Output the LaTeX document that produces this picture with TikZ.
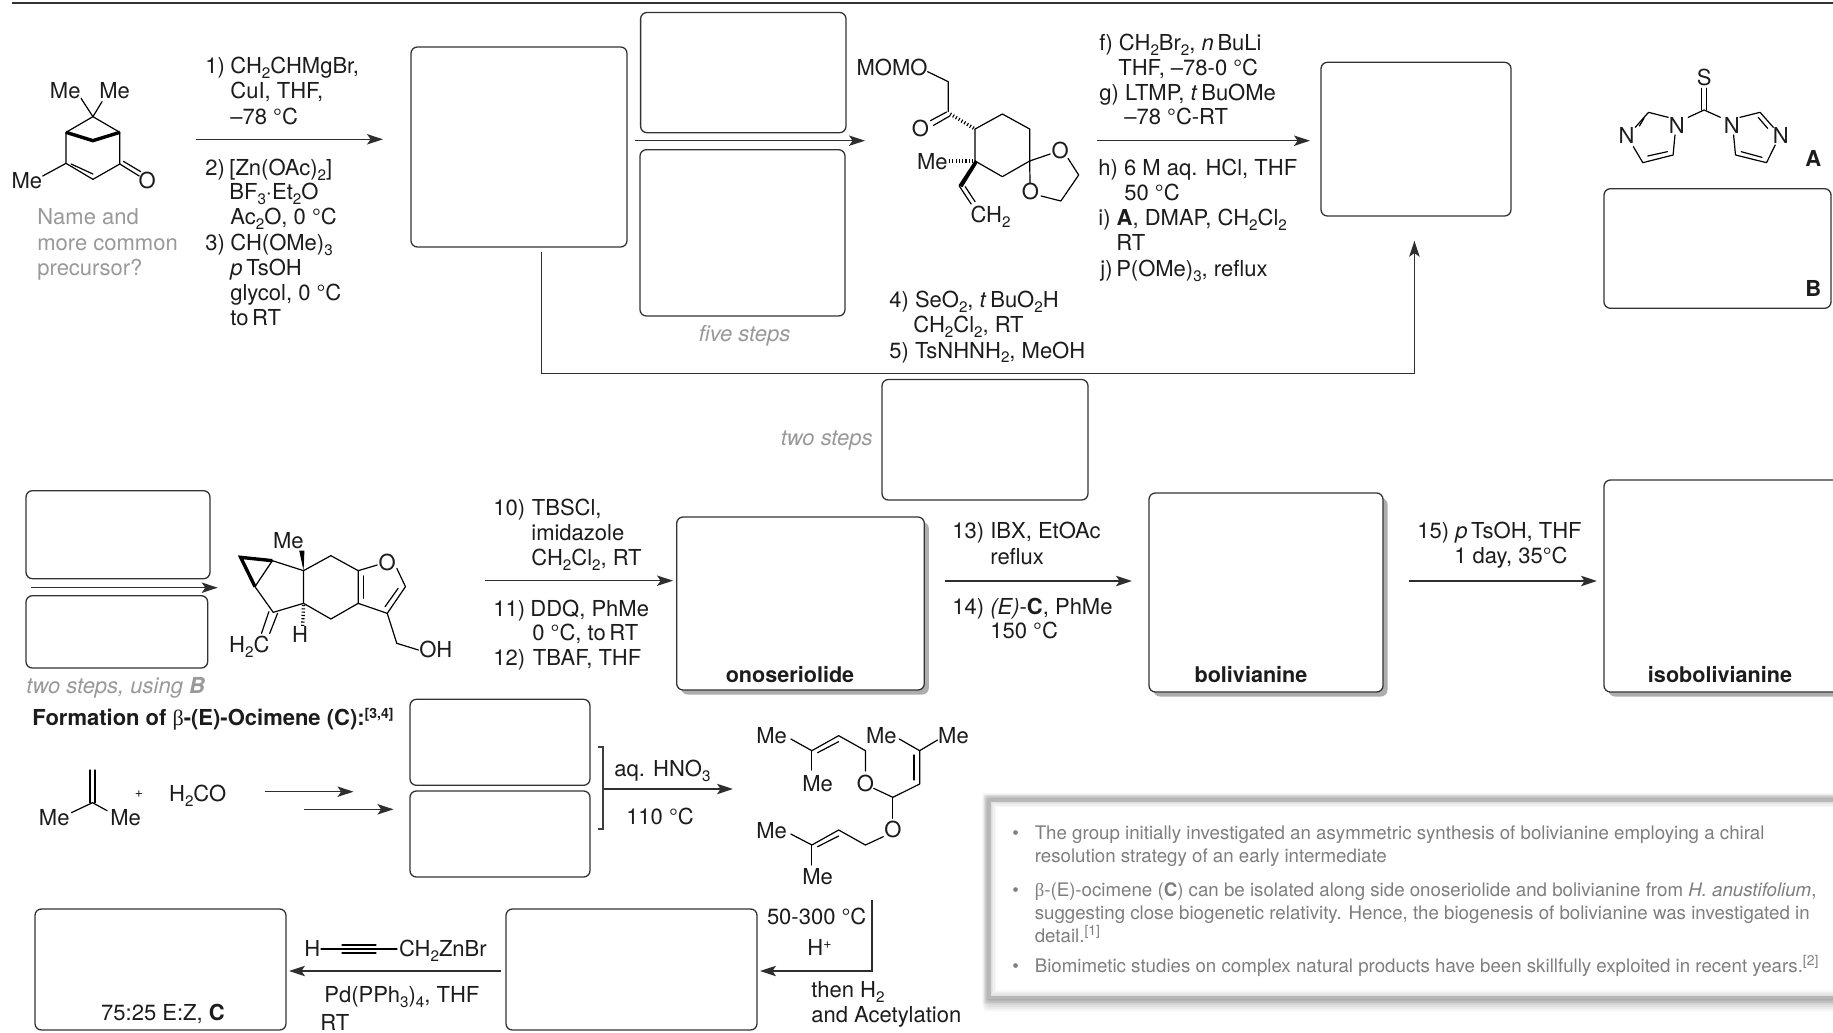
\documentclass[tikz,border=0pt]{standalone}
\usepackage{fontspec}
\setmainfont{TeX Gyre Heros}
\newfontfamily\grk{Liberation Serif}
\usetikzlibrary{arrows.meta,fit}
\newcommand\sbs[1]{\raisebox{-2.2pt}{\fontsize{7.6pt}{8pt}\selectfont #1}}
\newcommand\sps[1]{\raisebox{3.6pt}{\fontsize{7pt}{8pt}\selectfont #1}}
\definecolor{ink}{HTML}{1C1C1C}
\definecolor{capt}{HTML}{999999}
\definecolor{notec}{HTML}{7E7E7E}
\tikzset{
  txt/.style={anchor=base west,inner sep=0pt,yshift=-3.8pt,text=ink,font=\fontsize{11pt}{12pt}\selectfont},
  tc/.style={txt,anchor=base},
  tr/.style={txt,anchor=base east},
  capt/.style={text=capt},
  note/.style={txt,text=notec,yshift=.2pt,font=\fontsize{9.35pt}{11pt}\selectfont},
  box/.style={draw=ink!90,line width=.65pt,rounded corners=3.2pt,inner sep=0pt,fill=white},
  shbox/.style={box},
  arr/.style={draw=ink!92,line width=.65pt,-{Stealth[length=8pt,width=5.2pt,inset=1.8pt]}},
  bond/.style={draw=black,line width=.6pt,line cap=round,line join=round},
  bold/.style={draw=black,line width=1.7pt,line join=miter},
  hash/.style={draw=black,line width=1.7pt,dash pattern=on .55pt off 1.1pt},
}
\newcommand\bx[6][box]{\node[#1,fit={(#3,#4)(#5,#6)}] (#2) {};}
\newcommand\shx[6][box]{\fill[black!32,rounded corners=3.2pt] (#3+4.5,#4+5)rectangle(#5+4.5,#6+4.5);\node[#1,fit={(#3,#4)(#5,#6)}] (#2) {};}
\begin{document}
\begin{tikzpicture}[x=.5pt,y=-.5pt]
\useasboundingbox (0,0) rectangle (1833,1033);
\clip (0,0) rectangle (1833,1033);
\fill[white] (0,0) rectangle (1833,1033);
\coordinate (tl1) at (12,3); \coordinate (tl2) at (1833,3);
\draw[draw=ink!90,line width=1pt] (tl1)--(tl2);
% boxes
\bx{b1}{411}{47}{627}{247}
\bx{b2}{640.6}{12.5}{846}{132.7}
\bx{b3}{640}{149.7}{845}{316}
\bx{b4}{1321}{62.3}{1511}{216}
\bx{bB}{1604}{188.7}{1831}{308.3}
\bx{b5}{882}{379.5}{1088}{500}
\bx{b6}{26}{490.7}{210}{578.7}
\bx{b7}{26}{595.7}{207.7}{668}
\shx{ono}{676.7}{517}{924.3}{690}
\shx{bol}{1149}{493}{1383}{692}
\shx{iso}{1604}{480}{1850}{692}
\bx{c1}{410}{699.3}{590}{785.3}
\bx{c2}{410}{791}{590}{877}
\bx{e1}{35}{909}{286}{1030}
\bx{e2}{506}{909}{757}{1030}
% arrows
\coordinate (a1s) at (196,139.3); \coordinate (a1e) at (383,139.3); \draw[arr] (a1s)--(a1e);
\coordinate (a2s) at (635,140.7); \coordinate (a2e) at (865,140.7); \draw[arr] (a2s)--(a2e);
\coordinate (a3s) at (1097,140.7); \coordinate (a3e) at (1310,140.7); \draw[arr] (a3s)--(a3e);
\coordinate (l1) at (541.7,252); \coordinate (l2) at (541.7,373.5); \coordinate (l3) at (1414.4,373.5); \coordinate (l4) at (1414.4,240.7);
\draw[arr] (l1)--(l2)--(l3)--(l4);
\coordinate (a4s) at (31,587.7); \coordinate (a4e) at (217.7,587.7); \draw[arr] (a4s)--(a4e);
\coordinate (a5s) at (485,580.7); \coordinate (a5e) at (673,580.7); \draw[arr] (a5s)--(a5e);
\coordinate (a6s) at (945,581); \coordinate (a6e) at (1132,581); \draw[arr] (a6s)--(a6e);
\coordinate (a7s) at (1409,581); \coordinate (a7e) at (1597,581); \draw[arr] (a7s)--(a7e);
\coordinate (a8s) at (264.7,791.7); \coordinate (a8e) at (353.5,791.7); \draw[arr] (a8s)--(a8e);
\coordinate (a9s) at (303.6,809.3); \coordinate (a9e) at (393.5,809.3); \draw[arr] (a9s)--(a9e);
\coordinate (br1) at (598,747); \coordinate (br2) at (603,747); \coordinate (br3) at (603,829); \coordinate (br4) at (598,829);
\draw[draw=ink!85,line width=.6pt] (br1)--(br2)--(br3)--(br4);
\coordinate (a10s) at (604,789); \coordinate (a10e) at (733,789); \draw[arr] (a10s)--(a10e);
\coordinate (a11s) at (501,971); \coordinate (a11e) at (289,971); \draw[arr] (a11s)--(a11e);
\coordinate (a12s) at (872,900); \coordinate (a12m) at (872,971); \coordinate (a12e) at (760,971); \draw[arr] (a12s)--(a12m)--(a12e);
% reagents, row 1
\node[txt] (r1n) at (205,66) {1)}; \node[txt] (r1) at (230,66) {CH\sbs{2}CHMgBr,};
\node[txt] (r1b) at (230,91) {CuI, THF,};
\node[txt] (r1c) at (230,116.7) {--78 °C};
\node[txt] (r2n) at (205,168) {2)}; \node[txt] (r2) at (229,168) {[Zn(OAc)\sbs{2}]};
\node[txt] (r2b) at (229,192) {BF\sbs{3}·Et\sbs{2}O};
\node[txt] (r2c) at (230,217) {Ac\sbs{2}O, 0 °C};
\node[txt] (r3n) at (205,243) {3)}; \node[txt] (r3) at (230,243) {CH(OMe)\sbs{3}};
\node[txt] (r3b) at (230,268) {\textit{p}\,TsOH};
\node[txt] (r3c) at (230,293) {glycol, 0 °C};
\node[txt] (r3d) at (230,318) {to\,RT};
\node[txt,capt] (q1) at (37,216.7) {Name and};
\node[txt,capt] (q2) at (37,242.7) {more common};
\node[txt,capt] (q3) at (37,267.7) {precursor?};
\node[tc,capt] (five) at (744.5,334) {\itshape five steps};
\node[txt] (r4n) at (889,300) {4)}; \node[txt] (r4) at (914.6,300) {SeO\sbs{2}, \textit{t}\,BuO\sbs{2}H};
\node[txt] (r4b) at (913,325) {CH\sbs{2}Cl\sbs{2}, RT};
\node[txt] (r5n) at (889,350.7) {5)}; \node[txt] (r5) at (914.6,350.7) {TsNHNH\sbs{2}, MeOH};
\node[txt] (rf) at (1099,43) {f) CH\sbs{2}Br\sbs{2}, \textit{n}\,BuLi};
\node[txt] (rf2) at (1118,67.7) {THF, --78-0 °C};
\node[txt] (rg) at (1099,92.7) {g) LTMP, \textit{t}\,BuOMe};
\node[txt] (rg2) at (1124,117) {--78 °C-RT};
\node[txt] (rh) at (1098,168) {h) 6 M aq. HCl, THF};
\node[txt] (rh2) at (1124,193) {50 °C};
\node[txt] (ri) at (1098,218) {i) \textbf{A}, DMAP, CH\sbs{2}Cl\sbs{2}};
\node[txt] (ri2) at (1116,243) {RT};
\node[txt] (rj) at (1100,269) {j)\,P(OMe)\sbs{3}, reflux};
\node[tr,capt] (two) at (873,438) {\itshape two steps};
\node[txt,font=\fontsize{11pt}{12pt}\selectfont\bfseries] (lA) at (1805,159) {A};
\node[txt,font=\fontsize{11pt}{12pt}\selectfont\bfseries] (lB) at (1805,289) {B};
% row 2
\node[txt,capt] (twob) at (26,685.7) {\itshape two steps, using \textbf{B}};
\node[txt] (r10n) at (493,508) {10)}; \node[txt] (r10) at (531.5,508) {TBSCl,};
\node[txt] (r10b) at (531,533) {imidazole};
\node[txt] (r10c) at (531,558) {CH\sbs{2}Cl\sbs{2}, RT};
\node[txt] (r11n) at (493,609) {11)}; \node[txt] (r11) at (530,609) {DDQ, PhMe};
\node[txt] (r11b) at (532,633) {0 °C, to\,RT};
\node[txt] (r12n) at (493,658) {12)}; \node[txt] (r12) at (532.5,658) {TBAF, THF};
\node[tc,font=\fontsize{10.8pt}{12pt}\selectfont\bfseries] (lono) at (790,675) {onoseriolide};
\node[tc,font=\fontsize{10.8pt}{12pt}\selectfont\bfseries] (lbol) at (1251,675) {bolivianine};
\node[tc,font=\fontsize{10.8pt}{12pt}\selectfont\bfseries] (liso) at (1720,675) {isobolivianine};
\node[txt] (r13) at (952,531) {13) IBX, EtOAc};
\node[txt] (r13b) at (990,556.5) {reflux};
\node[txt] (r14) at (952,607) {14) \textit{(E)}-\textbf{C}, PhMe};
\node[txt] (r14b) at (990,631) {150 °C};
\node[txt] (r15) at (1417,531) {15) \textit{p}\,TsOH, THF};
\node[txt] (r15b) at (1454,556) {1 day, 35°C};
% ocimene
\node[txt,font=\fontsize{11pt}{12pt}\selectfont\bfseries] (form) at (32,718) {Formation of {\grk\mdseries β}-(E)-Ocimene (C):\sps{[3,4]}};
\node[txt] (hno) at (614,769) {aq. HNO\sbs{3}};
\node[tc] (tmp) at (660,817) {110 °C};
\node[tc] (ez) at (163,1013) {75:25 E:Z, \textbf{C}};
\node[txt] (hh) at (304,949) {H};
\coordinate (y1) at (321,949); \coordinate (y2) at (397,949); \draw[bond] (y1)--(y2);
\coordinate (y3) at (342,945); \coordinate (y4) at (376,945); \draw[bond] (y3)--(y4);
\coordinate (y5) at (342,953); \coordinate (y6) at (376,953); \draw[bond] (y5)--(y6);
\node[txt] (zn) at (398.6,949) {CH\sbs{2}ZnBr};
\node[txt] (pd) at (324,995) {Pd(PPh\sbs{3})\sbs{4}, THF};
\node[txt] (rt) at (320,1023) {RT};
\node[txt] (t50) at (766.6,917) {50-300 °C};
\node[tc] (hp) at (819.5,948) {H\sps{+}};
\node[txt] (th) at (811,990) {then H\sbs{2}};
\node[txt] (ac) at (811,1015) {and Acetylation};
% molecule 1
\begin{scope}[shift={(0,0)},x=.19771pt,y=-.16667pt]
\draw[bond] (205,295)--(235,350)--(258,305);
\draw[bond] (167,397)--(235,350)--(303,397);
\draw[bond] (167,397)--(167,490)--(235,538)--(303,492)--(303,397);
\draw[bond] (180,492)--(235,522);
\draw[bond] (303,492)--(352,528); \draw[bond] (312,484)--(356,515);
\draw[bond] (167,490)--(108,528);
\draw[bold] (167,397)--(235,422)--(303,397);
\node[tc] (m1a) at (165,272) {Me}; \node[tc] (m1b) at (290,272) {Me};
\node[tc] (m1c) at (68,542) {Me}; \node[tc] (m1d) at (372,543) {O};
\end{scope}
% molecule 2
\begin{scope}[shift={(620,0)},x=.19771pt,y=-.16667pt]
\draw[bond] (778,215)--(830,245)--(830,335);
\draw[bond] (826,336)--(785,362); \draw[bond] (834,348)--(793,376);
\draw[bond] (898,387)--(967,342)--(1036,387)--(1036,483)--(967,530)--(898,483)--cycle;
\draw[hash] (835,342)--(895,385);
\draw[hash] (832,483)--(893,483);
\fill[black] (898,480)--(905,487)--(866,562)--(856,556)--cycle;
\draw[bond] (858,558)--(888,612); \draw[bond] (873,560)--(898,605);
\draw[bond] (1036,483)--(1088,462); \draw[bond] (1036,483)--(1037,550);
\draw[bond] (1133,475)--(1160,525)--(1115,603)--(1065,588);
\node[tc] (m2a) at (688,203) {MOMO}; \node[tc] (m2b) at (760,388) {O};
\node[tc] (m2c) at (790,487) {Me}; \node[tc] (m2d) at (937,645) {CH\sbs{2}};
\node[tc] (m2e) at (1113,453) {O}; \node[tc] (m2f) at (1038,577) {O};
\end{scope}
% molecule A
\begin{scope}[shift={(1240,0)},x=.18911pt,y=-.16667pt]
\draw[bond] (1220,265)--(1220,330); \draw[bond] (1234,265)--(1234,330);
\draw[bond] (1185,352)--(1227,330)--(1270,352);
\draw[bond] (1132,352)--(1080,337)--(1045,382);
\draw[bond] (1068,355)--(1056,378);
\draw[bond] (1040,440)--(1065,488)--(1145,465)--(1150,405);
\draw[bond] (1078,468)--(1130,455);
\draw[bond] (1322,352)--(1375,337)--(1410,382);
\draw[bond] (1370,352)--(1395,385);
\draw[bond] (1415,435)--(1392,488)--(1310,465)--(1305,405);
\draw[bond] (1380,472)--(1325,455);
\node[tc] (mAs) at (1227,235) {S}; \node[tc] (mAn1) at (1155,378) {N}; \node[tc] (mAn2) at (1022,408) {N};
\node[tc] (mAn3) at (1300,378) {N}; \node[tc] (mAn4) at (1430,408) {N};
\end{scope}
% molecule 3
\begin{scope}[shift={(0,470)},x=.21683pt,y=-.16667pt]
\draw[bond] (700,302)--(628,272)--(588,350)--(630,427)--(700,400)--cycle;
\draw[bond] (700,302)--(763,257)--(826,302)--(870,285);
\draw[bond] (915,295)--(935,350)--(893,430)--(826,400)--(826,302);
\draw[bond] (838,385)--(838,318); \draw[bond] (918,355)--(888,410);
\draw[bond] (826,400)--(763,447)--(700,400);
\draw[bond] (893,430)--(915,520)--(965,540);
\draw[bond] (620,425)--(603,490); \draw[bond] (640,430)--(622,490);
\draw[bold] (628,272)--(555,262)--(588,350);
\fill[black] (700,302)--(690,242)--(702,242)--cycle;
\draw[hash] (700,405)--(698,468);
\node[tc] (m3a) at (665,212) {Me}; \node[tc] (m3b) at (893,278) {O};
\node[tc] (m3c) at (575,525) {H\sbs{2}C}; \node[tc] (m3d) at (692,495) {H};
\node[tc] (m3e) at (1005,540) {OH};
\end{scope}
% ocimene molecules
\begin{scope}[shift={(0,690)},x=.31888pt,y=-.16667pt]
\draw[bond] (141,240)--(141,338); \draw[bond] (149,240)--(149,338);
\draw[bond] (112,368)--(145,338)--(168,362);
\node[tc] (o1) at (85,385) {Me}; \node[tc] (o2) at (197,385) {Me};
\node[tc,font=\fontsize{7pt}{8pt}\selectfont] (o3) at (218,300) {+};
\node[tc] (o4) at (310,312) {H\sbs{2}CO};
\draw[bond] (1240,147)--(1273,182)--(1315,137)--(1357,182)--(1357,243);
\draw[bond] (1282,188)--(1315,155);
\draw[bond] (1273,182)--(1273,240);
\draw[bond] (1370,295)--(1400,322)--(1442,282)--(1442,182)--(1410,147);
\draw[bond] (1433,270)--(1433,195);
\draw[bond] (1470,150)--(1442,182);
\draw[bond] (1400,322)--(1400,385);
\draw[bond] (1385,440)--(1357,465)--(1315,420)--(1273,465)--(1240,432);
\draw[bond] (1282,470)--(1315,438);
\draw[bond] (1273,465)--(1273,525);
\node[tc] (o5) at (1210,137) {Me}; \node[tc] (o6) at (1282,282) {Me}; \node[tc] (o7) at (1357,282) {O};
\node[tc] (o8) at (1382,137) {Me}; \node[tc] (o9) at (1495,137) {Me}; \node[tc] (o10) at (1400,420) {O};
\node[tc] (o11) at (1210,422) {Me}; \node[tc] (o12) at (1282,562) {Me};
\end{scope}
% note box
\foreach \i in {1,...,6}{\fill[black,opacity=.04,rounded corners=2pt] ({989-\i},{800-\i}) rectangle (1860,{997+2*\i+2});}
\fill[white] (989,800) rectangle (1860,997);
\foreach \i in {14,11,8,5}{\draw[black,opacity=.03,line width=\i*.5pt] (989,800) rectangle (1860,997);}
\draw[draw=black!28,line width=1.5pt] (989,800) rectangle (1860,997);
\node[note] (n0a) at (1012,832.3) {•}; \node[note] (n0b) at (1012,889) {•}; \node[note] (n0c) at (1012,965) {•};
\node[note] (n1) at (1034.4,832.3) {The group initially investigated an asymmetric synthesis of bolivianine employing a chiral};
\node[note] (n2) at (1034.4,855.3) {resolution strategy of an early intermediate};
\node[note] (n3) at (1034.4,889) {{\grk β}-(E)-ocimene (\textbf{C}) can be isolated along side onoseriolide and bolivianine from \textit{H. anustifolium},};
\node[note] (n4) at (1034.4,912) {suggesting close biogenetic relativity. Hence, the biogenesis of bolivianine was investigated in};
\node[note] (n5) at (1034.4,935) {detail.\sps{[1]}};
\node[note] (n6) at (1034.4,965) {Biomimetic studies on complex natural products have been skillfully exploited in recent years.\sps{[2]}};
\end{tikzpicture}
\end{document}
